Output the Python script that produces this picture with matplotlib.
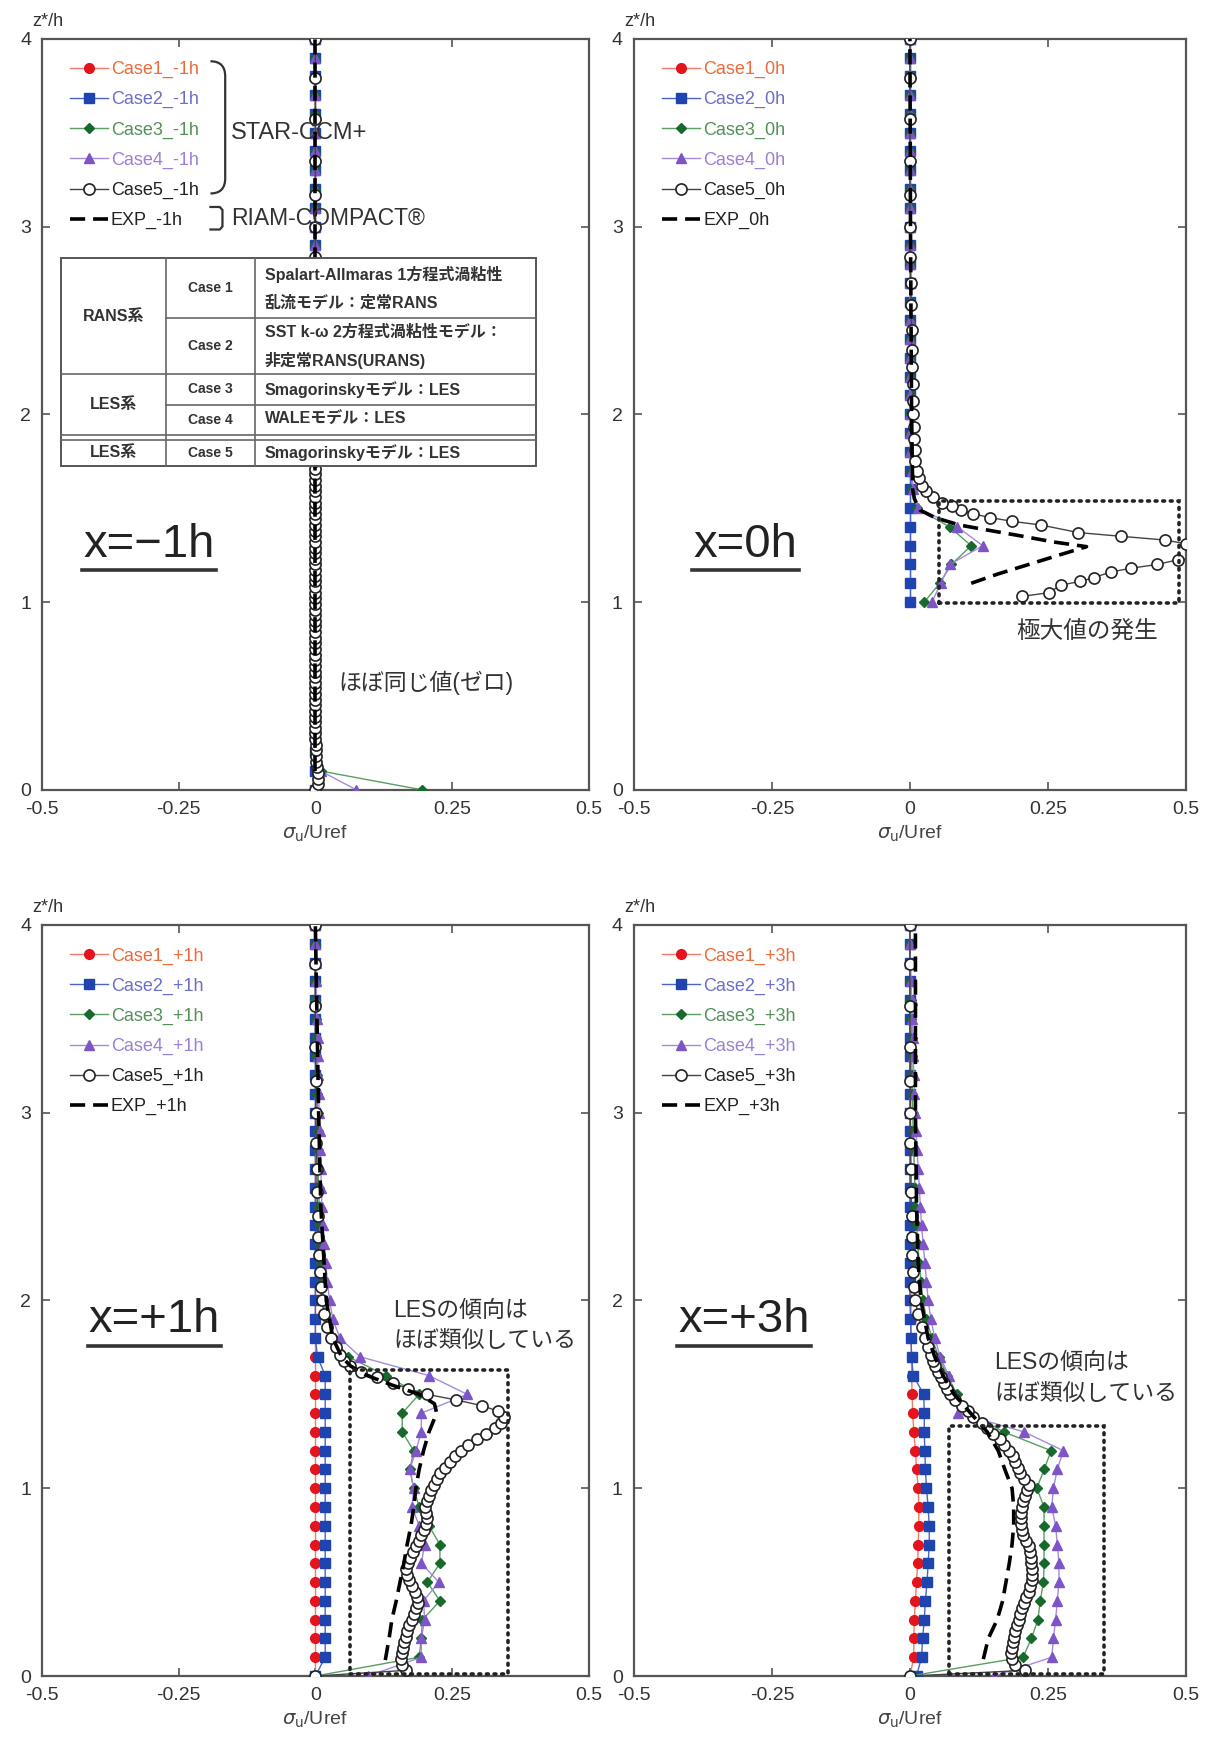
import matplotlib
matplotlib.use('Agg')
import matplotlib.pyplot as plt
from matplotlib.patches import Rectangle, PathPatch
from matplotlib.path import Path

plt.rcParams['font.family'] = ['Liberation Sans', 'Noto Sans CJK JP', 'DejaVu Sans']
plt.rcParams['axes.unicode_minus'] = False

# ---------------- data ----------------
x_ticks = [-0.5, -0.25, 0, 0.25, 0.5]
x_ticklabels = ['-0.5', '-0.25', '0', '0.25', '0.5']
y_ticks = [0, 1, 2, 3, 4]

# heights of Case1-4 output (ground / roof)
zc = [0.0, 0.1, 0.2, 0.3, 0.4, 0.5, 0.6, 0.7, 0.8, 0.9, 1.0, 1.1, 1.2, 1.3, 1.4, 1.5, 1.6, 1.7, 1.8, 1.9,
      2.0, 2.1, 2.2, 2.3, 2.4, 2.5, 2.6, 2.7, 2.8, 2.9, 3.0, 3.1, 3.2, 3.3, 3.4, 3.5, 3.6, 3.7, 3.8, 3.9, 4.0]
zc_roof = [1.0, 1.1, 1.2, 1.3, 1.4, 1.5, 1.6, 1.7, 1.8, 1.9, 2.0, 2.1, 2.2, 2.3, 2.4, 2.5, 2.6, 2.7, 2.8, 2.9,
           3.0, 3.1, 3.2, 3.3, 3.4, 3.5, 3.6, 3.7, 3.8, 3.9, 4.0]
# heights of Case5 output (stretched grid from the ground)
z5 = [0.00, 0.03, 0.06, 0.09, 0.12, 0.15, 0.18, 0.21, 0.24, 0.27,
      0.30, 0.33, 0.36, 0.39, 0.42, 0.45, 0.48, 0.51, 0.54, 0.57,
      0.60, 0.63, 0.66, 0.69, 0.72, 0.75, 0.78, 0.81, 0.84, 0.87,
      0.90, 0.93, 0.96, 0.99, 1.02, 1.05, 1.08, 1.11, 1.14, 1.17,
      1.20, 1.23, 1.26, 1.29, 1.32, 1.35, 1.38, 1.41, 1.44, 1.47,
      1.50, 1.53, 1.56, 1.59, 1.62, 1.65, 1.68, 1.71,
      1.75, 1.80, 1.86, 1.93, 2.00, 2.07, 2.15, 2.24, 2.34, 2.45,
      2.58, 2.70, 2.84, 3.00, 3.17, 3.35, 3.57, 3.79, 4.00]

# x = -1h
c1_m1 = [0.0, 0.0, 0.0, 0.0, 0.0, 0.0, 0.0, 0.0, 0.0, 0.0, 0.0, 0.0, 0.0, 0.0, 0.0, 0.0, 0.0, 0.0, 0.0, 0.0,
         0.0, 0.0, 0.0, 0.0, 0.0, 0.0, 0.0, 0.0, 0.0, 0.0, 0.0, 0.0, 0.0, 0.0, 0.0, 0.0, 0.0, 0.0, 0.0, 0.0, 0.0]
c2_m1 = [0.0, 0.0, 0.0, 0.0, 0.0, 0.0, 0.0, 0.0, 0.0, 0.0, 0.0, 0.0, 0.0, 0.0, 0.0, 0.0, 0.0, 0.0, 0.0, 0.0,
         0.0, 0.0, 0.0, 0.0, 0.0, 0.0, 0.0, 0.0, 0.0, 0.0, 0.0, 0.0, 0.0, 0.0, 0.0, 0.0, 0.0, 0.0, 0.0, 0.0, 0.0]
c3_m1 = [0.195, 0.01, 0.0, 0.0, 0.0, 0.0, 0.0, 0.0, 0.0, 0.0, 0.0, 0.0, 0.0, 0.0, 0.0, 0.0, 0.0, 0.0, 0.0, 0.0,
         0.0, 0.0, 0.0, 0.0, 0.0, 0.0, 0.0, 0.0, 0.0, 0.0, 0.0, 0.0, 0.0, 0.0, 0.0, 0.0, 0.0, 0.0, 0.0, 0.0, 0.0]
c4_m1 = [0.075, 0.01, 0.0, 0.0, 0.0, 0.0, 0.0, 0.0, 0.0, 0.0, 0.0, 0.0, 0.0, 0.0, 0.0, 0.0, 0.0, 0.0, 0.0, 0.0,
         0.0, 0.0, 0.0, 0.0, 0.0, 0.0, 0.0, 0.0, 0.0, 0.0, 0.0, 0.0, 0.0, 0.0, 0.0, 0.0, 0.0, 0.0, 0.0, 0.0, 0.0]
c5_m1 = [0.0, 0.004, 0.004, 0.004, 0.003, 0.002, 0.002, 0.001, 0.001, 0.0,
         0.0, 0.0, 0.0, 0.0, 0.0, 0.0, 0.0, 0.0, 0.0, 0.0,
         0.0, 0.0, 0.0, 0.0, 0.0, 0.0, 0.0, 0.0, 0.0, 0.0,
         0.0, 0.0, 0.0, 0.0, 0.0, 0.0, 0.0, 0.0, 0.0, 0.0,
         0.0, 0.0, 0.0, 0.0, 0.0, 0.0, 0.0, 0.0, 0.0, 0.0,
         0.0, 0.0, 0.0, 0.0, 0.0, 0.0, 0.0, 0.0,
         0.0, 0.0, 0.0, 0.0, 0.0, 0.0, 0.0, 0.0, 0.0, 0.0,
         0.0, 0.0, 0.0, 0.0, 0.0, 0.0, 0.0, 0.0, 0.0]
exp_m1_z = [0.1, 1.0, 2.0, 3.0, 4.0]
exp_m1 = [0.0, 0.0, 0.0, 0.0, 0.0]

# x = 0h (on the roof)
c1_0 = [0.0, 0.0, 0.0, 0.0, 0.0, 0.0, 0.0, 0.0, 0.0, 0.0, 0.0, 0.0, 0.0, 0.0, 0.0, 0.0, 0.0, 0.0, 0.0, 0.0,
        0.0, 0.0, 0.0, 0.0, 0.0, 0.0, 0.0, 0.0, 0.0, 0.0, 0.0]
c2_0 = [0.0, 0.0, 0.0, 0.0, 0.0, 0.0, 0.0, 0.0, 0.0, 0.0, 0.0, 0.0, 0.0, 0.0, 0.0, 0.0, 0.0, 0.0, 0.0, 0.0,
        0.0, 0.0, 0.0, 0.0, 0.0, 0.0, 0.0, 0.0, 0.0, 0.0, 0.0]
c3_0 = [0.026, 0.054, 0.075, 0.111, 0.072, 0.012, 0.004, 0.002, 0.001, 0.0, 0.0, 0.0, 0.0, 0.0, 0.0, 0.0,
        0.0, 0.0, 0.0, 0.0, 0.0, 0.0, 0.0, 0.0, 0.0, 0.0, 0.0, 0.0, 0.0, 0.0, 0.0]
c4_0 = [0.040, 0.056, 0.072, 0.132, 0.086, 0.015, 0.006, 0.003, 0.001, 0.0, 0.0, 0.0, 0.0, 0.0, 0.0, 0.0,
        0.0, 0.0, 0.0, 0.0, 0.0, 0.0, 0.0, 0.0, 0.0, 0.0, 0.0, 0.0, 0.0, 0.0, 0.0]
z5_0 = [1.03, 1.05, 1.09, 1.11, 1.13, 1.16, 1.18, 1.20, 1.225, 1.25, 1.28, 1.31, 1.33, 1.35, 1.37, 1.41,
        1.43, 1.45, 1.47, 1.49, 1.51, 1.53, 1.56, 1.59, 1.62, 1.66, 1.70, 1.75, 1.81, 1.87, 1.93, 2.00,
        2.07, 2.16, 2.25, 2.34, 2.45, 2.58, 2.70, 2.84, 3.00, 3.17, 3.35, 3.57, 3.79, 4.00]
c5_0 = [0.203, 0.252, 0.273, 0.309, 0.333, 0.364, 0.400, 0.448, 0.485, 0.56, 0.58, 0.50, 0.463, 0.383, 0.305, 0.238,
        0.185, 0.145, 0.114, 0.093, 0.076, 0.058, 0.042, 0.030, 0.022, 0.016, 0.012, 0.010, 0.009, 0.008, 0.008, 0.006,
        0.006, 0.005, 0.004, 0.003, 0.003, 0.002, 0.002, 0.0, 0.0, 0.0, 0.0, 0.0, 0.0, 0.0]
exp_0_z = [1.10, 1.15, 1.20, 1.25, 1.295, 1.32, 1.35, 1.38, 1.41, 1.45, 1.49, 1.55, 1.60, 2.0, 3.0, 4.0]
exp_0 = [0.111, 0.16, 0.215, 0.27, 0.32, 0.26, 0.205, 0.147, 0.09, 0.045, 0.018, 0.008, 0.005, 0.003, 0.001, 0.0]

# x = +1h
c1_p1 = [0.0, 0.0, 0.0, 0.0, 0.0, 0.0, 0.0, 0.0, 0.0, 0.0, 0.0, 0.0, 0.0, 0.0, 0.0, 0.0, 0.0, 0.0, 0.0, 0.0,
         0.0, 0.0, 0.0, 0.0, 0.0, 0.0, 0.0, 0.0, 0.0, 0.0, 0.0, 0.0, 0.0, 0.0, 0.0, 0.0, 0.0, 0.0, 0.0, 0.0, 0.0]
c2_p1 = [0.0, 0.018, 0.018, 0.018, 0.018, 0.018, 0.018, 0.018, 0.018, 0.018, 0.018, 0.018, 0.018, 0.018, 0.018,
         0.018, 0.018, 0.004, 0.0, 0.0, 0.0, 0.0, 0.0, 0.0, 0.0, 0.0, 0.0, 0.0, 0.0, 0.0, 0.0, 0.0, 0.0, 0.0, 0.0,
         0.0, 0.0, 0.0, 0.0, 0.0, 0.0]
c3_p1 = [0.0, 0.19, 0.194, 0.196, 0.228, 0.205, 0.228, 0.228, 0.208, 0.19, 0.18, 0.173, 0.18, 0.159, 0.159, 0.19,
         0.13, 0.06, 0.035, 0.022, 0.015, 0.012, 0.01, 0.009, 0.008, 0.007, 0.006, 0.005, 0.005, 0.004, 0.004,
         0.003, 0.003, 0.002, 0.002, 0.001, 0.0, 0.0, 0.0, 0.0, 0.0]
c4_p1 = [0.096, 0.194, 0.194, 0.2, 0.198, 0.226, 0.194, 0.2, 0.19, 0.177, 0.18, 0.173, 0.184, 0.194, 0.194, 0.278,
         0.208, 0.082, 0.045, 0.032, 0.026, 0.022, 0.019, 0.016, 0.014, 0.012, 0.011, 0.01, 0.009, 0.008, 0.007,
         0.006, 0.005, 0.004, 0.004, 0.003, 0.002, 0.002, 0.001, 0.0, 0.0]
c5_p1 = [0.0, 0.165, 0.158, 0.156, 0.158, 0.160, 0.163, 0.165, 0.168, 0.172,
         0.176, 0.180, 0.184, 0.187, 0.186, 0.182, 0.177, 0.171, 0.167, 0.166,
         0.169, 0.174, 0.179, 0.184, 0.189, 0.194, 0.199, 0.203, 0.205, 0.203,
         0.201, 0.204, 0.208, 0.212, 0.217, 0.222, 0.229, 0.237, 0.246, 0.256,
         0.267, 0.280, 0.296, 0.312, 0.328, 0.340, 0.345, 0.335, 0.305, 0.258,
         0.205, 0.170, 0.143, 0.112, 0.084, 0.064, 0.053, 0.045,
         0.037, 0.029, 0.022, 0.016, 0.012, 0.010, 0.008, 0.006, 0.005, 0.004,
         0.003, 0.003, 0.002, 0.001, 0.001, 0.0, 0.0, 0.0, 0.0]
exp_p1_z = [0.085, 0.2, 0.3, 0.4, 0.5, 0.6, 0.7, 0.8, 0.9, 1.0, 1.1, 1.2, 1.3, 1.4, 1.45, 1.5, 1.55, 1.6, 1.65,
            1.7, 1.8, 2.0, 2.5, 3.0, 3.5, 4.0]
exp_p1 = [0.128, 0.135, 0.14, 0.148, 0.155, 0.162, 0.168, 0.175, 0.18, 0.184, 0.19, 0.198, 0.208, 0.222, 0.218,
          0.19, 0.14, 0.095, 0.065, 0.048, 0.032, 0.02, 0.01, 0.006, 0.003, 0.0]

# x = +3h
c1_p3 = [0.0, 0.007, 0.007, 0.008, 0.01, 0.012, 0.014, 0.015, 0.016, 0.016, 0.015, 0.012, 0.01, 0.007, 0.005,
         0.004, 0.003, 0.003, 0.002, 0.002, 0.002, 0.001, 0.001, 0.001, 0.0, 0.0, 0.0, 0.0, 0.0, 0.0, 0.0, 0.0,
         0.0, 0.0, 0.0, 0.0, 0.0, 0.0, 0.0, 0.0, 0.0]
c2_p3 = [0.012, 0.021, 0.023, 0.026, 0.028, 0.031, 0.033, 0.035, 0.035, 0.033, 0.03, 0.028, 0.027, 0.026, 0.026,
         0.025, 0.006, 0.003, 0.002, 0.001, 0.0, 0.0, 0.0, 0.0, 0.0, 0.0, 0.0, 0.0, 0.0, 0.0, 0.0, 0.0, 0.0, 0.0,
         0.0, 0.0, 0.0, 0.0, 0.0, 0.0, 0.0]
c3_p3 = [0.0, 0.205, 0.22, 0.232, 0.236, 0.242, 0.243, 0.243, 0.243, 0.243, 0.23, 0.243, 0.256, 0.17, 0.11, 0.085,
         0.068, 0.052, 0.04, 0.03, 0.024, 0.02, 0.017, 0.014, 0.012, 0.01, 0.009, 0.008, 0.007, 0.006, 0.005,
         0.004, 0.004, 0.003, 0.003, 0.002, 0.002, 0.001, 0.001, 0.0, 0.0]
c4_p3 = [0.153, 0.257, 0.26, 0.264, 0.267, 0.27, 0.27, 0.267, 0.264, 0.257, 0.26, 0.267, 0.278, 0.207, 0.088, 0.08,
         0.07, 0.055, 0.045, 0.038, 0.033, 0.03, 0.027, 0.024, 0.021, 0.019, 0.017, 0.015, 0.013, 0.011, 0.01,
         0.008, 0.007, 0.006, 0.005, 0.004, 0.003, 0.002, 0.001, 0.0, 0.0]
c5_p3 = [0.0, 0.208, 0.190, 0.185, 0.184, 0.185, 0.186, 0.188, 0.190, 0.194,
         0.198, 0.200, 0.203, 0.206, 0.211, 0.215, 0.218, 0.221, 0.222, 0.221,
         0.220, 0.219, 0.217, 0.215, 0.210, 0.205, 0.203, 0.202, 0.202, 0.202,
         0.203, 0.205, 0.209, 0.213, 0.215, 0.207, 0.200, 0.196, 0.191, 0.186,
         0.180, 0.171, 0.163, 0.150, 0.139, 0.130, 0.115, 0.105, 0.094, 0.082,
         0.073, 0.067, 0.062, 0.057, 0.051, 0.046, 0.042, 0.038,
         0.033, 0.027, 0.021, 0.014, 0.010, 0.007, 0.005, 0.004, 0.003, 0.003,
         0.002, 0.002, 0.001, 0.001, 0.001, 0.0, 0.0, 0.0, 0.0]
exp_p3_z = [0.09, 0.2, 0.3, 0.4, 0.5, 0.6, 0.7, 0.8, 0.9, 1.0, 1.1, 1.2, 1.3, 1.4, 1.5, 1.6, 1.7, 1.8, 2.0, 2.2,
            2.5, 3.0, 3.5, 4.0]
exp_p3 = [0.133, 0.142, 0.158, 0.168, 0.174, 0.18, 0.185, 0.188, 0.188, 0.185, 0.172, 0.16, 0.14, 0.11, 0.08,
          0.06, 0.045, 0.033, 0.02, 0.015, 0.012, 0.01, 0.01, 0.01]

# highlighted regions (x0, z0, x1, z1)
box_0 = (0.053, 0.995, 0.487, 1.54)
box_p1 = (0.063, 0.012, 0.352, 1.63)
box_p3 = (0.07, 0.012, 0.352, 1.33)

# ---------------- style ----------------
styles = [
    dict(marker='o', mfc='#e3141c', mec='#e3141c', color='#f07a6a', ms=7, text='#ec6a3c'),
    dict(marker='s', mfc='#1f44b0', mec='#1f44b0', color='#4a63c4', ms=6.5, text='#6b6fc8'),
    dict(marker='D', mfc='#17692c', mec='#17692c', color='#5a9e62', ms=5.5, text='#55905a'),
    dict(marker='^', mfc='#7d55c6', mec='#7d55c6', color='#a58ade', ms=7.5, text='#9c80d4'),
    dict(marker='o', mfc='white', mec='#222222', color='#444444', ms=8, text='#222222'),
]
gray = '#333333'


def draw_panel(ax, tag, zc_used, cases, z5_used, c5, exp_z, exp_x, box):
    for i, xs in enumerate(cases):
        st = styles[i]
        ax.plot(xs, zc_used, marker=st['marker'], color=st['color'], mfc=st['mfc'], mec=st['mec'],
                ms=st['ms'], lw=1.0, label='Case%d_%s' % (i + 1, tag), zorder=3 + i)
    st = styles[4]
    ax.plot(c5, z5_used, marker='o', color=st['color'], mfc='white', mec=st['mec'], mew=1.2,
            ms=st['ms'], lw=1.0, label='Case5_%s' % tag, zorder=8)
    ax.plot(exp_x, exp_z, color='black', lw=2.6, dashes=(4.2, 2.2), label='EXP_%s' % tag, zorder=9)

    if box is not None:
        ax.add_patch(Rectangle((box[0], box[1]), box[2] - box[0], box[3] - box[1], fill=False,
                               ec='#222222', lw=2.6, ls=(0, (0.5, 1.6)), capstyle='round', zorder=10))

    ax.set_xlim(-0.5, 0.5)
    ax.set_ylim(0, 4)
    ax.set_xticks(x_ticks)
    ax.set_xticklabels(x_ticklabels)
    ax.set_yticks(y_ticks)
    ax.tick_params(direction='in', top=True, right=True, length=6, width=1.2, labelsize=14,
                   labelcolor='#333333', colors='#555555', pad=8)
    for sp in ax.spines.values():
        sp.set_color('#555555')
        sp.set_linewidth(1.6)
    ax.set_xlabel(r'$\sigma_{\rm u}$/Uref', fontsize=14, color='#444444', labelpad=4)
    ax.text(0.01, 1.012, 'z*/h', transform=ax.transAxes, ha='center', va='bottom', fontsize=13,
            color='#333333')

    leg = ax.legend(loc='upper left', bbox_to_anchor=(0.045, 0.975), frameon=False, fontsize=13,
                    handlelength=2.1, handletextpad=0.15, labelspacing=0.72, borderaxespad=0,
                    borderpad=0.2)
    for t, st in zip(leg.get_texts(), styles + [dict(text='#222222')]):
        t.set_color(st['text'])
    leg.set_zorder(20)
    return ax


def big_label(ax, s, x, y, uy):
    t = ax.text(x, y, s, transform=ax.transAxes, fontsize=34, color='#222222', va='baseline', ha='left',
                zorder=15)
    fig.canvas.draw()
    bb = t.get_window_extent().transformed(ax.transAxes.inverted())
    ax.plot([bb.x0 - 0.002, bb.x1 + 0.002], [uy, uy], transform=ax.transAxes, color='#333333', lw=2.6,
            zorder=15)


fig = plt.figure(figsize=(12.08, 17.37), dpi=100)
ax1 = fig.add_axes([0.0349, 0.5453, 0.4523, 0.4324])
ax2 = fig.add_axes([0.5248, 0.5453, 0.4569, 0.4324])
ax3 = fig.add_axes([0.0349, 0.0351, 0.4523, 0.4324])
ax4 = fig.add_axes([0.5248, 0.0351, 0.4569, 0.4324])

draw_panel(ax1, '-1h', zc, [c1_m1, c2_m1, c3_m1, c4_m1], z5, c5_m1, exp_m1_z, exp_m1, None)
draw_panel(ax2, '0h', zc_roof, [c1_0, c2_0, c3_0, c4_0], z5_0, c5_0, exp_0_z, exp_0, box_0)
draw_panel(ax3, '+1h', zc, [c1_p1, c2_p1, c3_p1, c4_p1], z5, c5_p1, exp_p1_z, exp_p1, box_p1)
draw_panel(ax4, '+3h', zc, [c1_p3, c2_p3, c3_p3, c4_p3], z5, c5_p3, exp_p3_z, exp_p3, box_p3)

big_label(ax1, 'x=\u22121h', 0.075, 0.31, 0.292)
big_label(ax2, 'x=0h', 0.108, 0.31, 0.292)
big_label(ax3, 'x=+1h', 0.085, 0.458, 0.440)
big_label(ax4, 'x=+3h', 0.080, 0.458, 0.440)

ax1.text(0.542, 0.143, 'ほぼ同じ値(ゼロ)', transform=ax1.transAxes, fontsize=16.5, color=gray, va='center')
ax2.text(0.693, 0.211, '極大値の発生', transform=ax2.transAxes, fontsize=17, color=gray, va='center')
ax3.text(0.643, 0.487, 'LESの傾向は', transform=ax3.transAxes, fontsize=16.5, color=gray, va='center')
ax3.text(0.643, 0.447, 'ほぼ類似している', transform=ax3.transAxes, fontsize=16.5, color=gray, va='center')
ax4.text(0.653, 0.417, 'LESの傾向は', transform=ax4.transAxes, fontsize=16.5, color=gray, va='center')
ax4.text(0.653, 0.376, 'ほぼ類似している', transform=ax4.transAxes, fontsize=16.5, color=gray, va='center')

# brackets and solver names on the first panel
bx0, bx1, btop, bbot, r = 0.308, 0.335, 0.970, 0.794, 0.02
brace = Path([(bx0, btop), (bx1, btop), (bx1, btop - r), (bx1, bbot + r), (bx1, bbot), (bx0, bbot)],
             [Path.MOVETO, Path.CURVE3, Path.CURVE3, Path.LINETO, Path.CURVE3, Path.CURVE3])
ax1.add_patch(PathPatch(brace, fill=False, ec='#333333', lw=1.6, transform=ax1.transAxes, zorder=15))
rx0, rx1, rtop, rbot = 0.306, 0.330, 0.776, 0.746
rbr = Path([(rx0, rtop), (rx1 - 0.005, rtop), (rx1, rtop - 0.004), (rx1, rbot + 0.004), (rx1 - 0.005, rbot),
            (rx0, rbot)],
           [Path.MOVETO, Path.LINETO, Path.LINETO, Path.LINETO, Path.LINETO, Path.LINETO])
ax1.add_patch(PathPatch(rbr, fill=False, ec='#333333', lw=1.6, transform=ax1.transAxes, zorder=15))
ax1.text(0.345, 0.875, 'STAR-CCM+', transform=ax1.transAxes, fontsize=17, color=gray, va='center', zorder=15)
ax1.text(0.345, 0.761, 'RIAM-COMPACT®', transform=ax1.transAxes, fontsize=16.5, color=gray, va='center',
         zorder=15)

# model table
tl, c1x, c2x, tr = 0.0345, 0.227, 0.389, 0.903
ttop, r1, r2, r3, r4a, r4b, tbot = 0.708, 0.628, 0.553, 0.513, 0.473, 0.466, 0.431
ax1.add_patch(Rectangle((tl, tbot), tr - tl, ttop - tbot, transform=ax1.transAxes, fc='white',
                        ec='#555555', lw=1.4, zorder=16))
tk = dict(transform=ax1.transAxes, color='#666666', lw=1.2, zorder=17)
ax1.plot([c1x, c1x], [tbot, ttop], **tk)
ax1.plot([c2x, c2x], [tbot, ttop], **tk)
ax1.plot([c1x, tr], [r1, r1], **tk)
ax1.plot([tl, tr], [r2, r2], **tk)
ax1.plot([c1x, tr], [r3, r3], **tk)
ax1.plot([tl, tr], [r4a, r4a], **tk)
ax1.plot([tl, tr], [r4b, r4b], **tk)
tt = dict(transform=ax1.transAxes, color='#333333', fontweight='bold', zorder=18, va='center')
cc = (tl + c1x) / 2
cm = (c1x + c2x) / 2
tx = c2x + 0.018
fs_c, fs_d = 10, 11.5
ax1.text(cc, (ttop + r2) / 2, 'RANS系', ha='center', fontsize=fs_d, **tt)
ax1.text(cm, (ttop + r1) / 2, 'Case 1', ha='center', fontsize=fs_c, **tt)
ax1.text(tx, 0.686, 'Spalart-Allmaras 1方程式渦粘性', ha='left', fontsize=fs_d, **tt)
ax1.text(tx, 0.649, '乱流モデル：定常RANS', ha='left', fontsize=fs_d, **tt)
ax1.text(cm, (r1 + r2) / 2, 'Case 2', ha='center', fontsize=fs_c, **tt)
ax1.text(tx, 0.609, 'SST k-ω 2方程式渦粘性モデル：', ha='left', fontsize=fs_d, **tt)
ax1.text(tx, 0.571, '非定常RANS(URANS)', ha='left', fontsize=fs_d, **tt)
ax1.text(cc, (r2 + r4a) / 2, 'LES系', ha='center', fontsize=fs_d, **tt)
ax1.text(cm, (r2 + r3) / 2, 'Case 3', ha='center', fontsize=fs_c, **tt)
ax1.text(tx, (r2 + r3) / 2, 'Smagorinskyモデル：LES', ha='left', fontsize=fs_d, **tt)
ax1.text(cm, (r3 + r4a) / 2, 'Case 4', ha='center', fontsize=fs_c, **tt)
ax1.text(tx, (r3 + r4a) / 2, 'WALEモデル：LES', ha='left', fontsize=fs_d, **tt)
ax1.text(cc, (r4b + tbot) / 2, 'LES系', ha='center', fontsize=fs_d, **tt)
ax1.text(cm, (r4b + tbot) / 2, 'Case 5', ha='center', fontsize=fs_c, **tt)
ax1.text(tx, (r4b + tbot) / 2, 'Smagorinskyモデル：LES', ha='left', fontsize=fs_d, **tt)

fig.savefig('out.png', dpi=100, facecolor='white')
